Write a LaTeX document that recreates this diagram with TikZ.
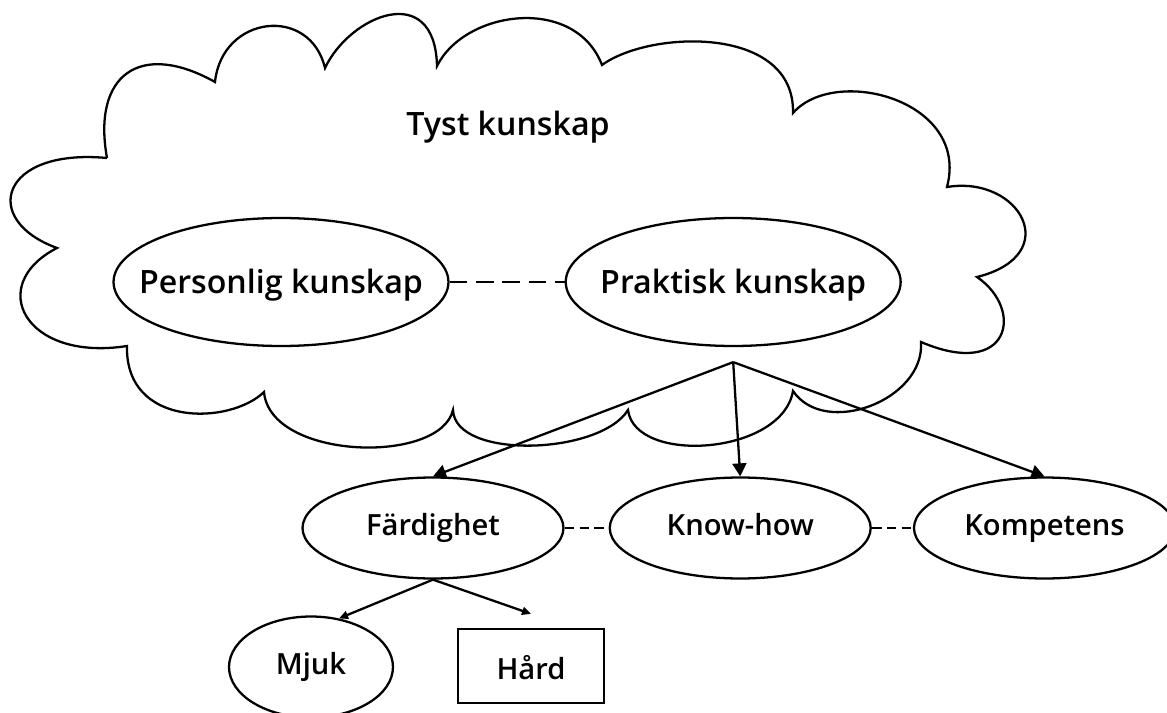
\documentclass[tikz,border=0pt]{standalone}
\usepackage{fontspec}
\IfFontExistsTF{Open Sans SemiBold}
  {\setmainfont{Open Sans SemiBold}}
  {\IfFontExistsTF{Open Sans Semibold}
    {\setmainfont{Open Sans Semibold}}
    {\setmainfont{Open Sans}[UprightFeatures={FakeBold=1.5}]}}
\usetikzlibrary{arrows.meta, positioning, shapes.geometric}

\begin{document}
\begin{tikzpicture}[
  x=0.02cm, y=-0.02cm,                          % one unit = one pixel of the sketch
  line width=1.3pt,
  bigtext/.style={font=\fontsize{18.3}{22}\selectfont},
  smalltext/.style={font=\fontsize{16.6}{20}\selectfont,
                    text height=11.5pt, text depth=3pt},
  bigbubble/.style={ellipse, draw, line width=1.3pt, inner sep=0pt,
                    minimum width=6.7cm, minimum height=2.56cm},
  bubble/.style={ellipse, draw, line width=1.3pt, inner sep=0pt, smalltext,
                 minimum width=5.22cm, minimum height=2.02cm},
  hardbox/.style={rectangle, draw, line width=1.3pt, inner sep=0pt, smalltext,
                  text height=16.5pt, text depth=1.5pt,
                  minimum width=2.92cm, minimum height=1.48cm},
  biglink/.style={line width=1.3pt, dash pattern=on 10pt off 5pt},
  link/.style={line width=1.3pt, dash pattern=on 5.5pt off 3pt},
  branch/.style={-{Triangle[length=2.6mm, width=2.8mm]}, line width=1.3pt},
  twig/.style={-{Triangle[length=1.8mm, width=1.6mm]}, line width=1.3pt}
]
  \useasboundingbox (0,0) rectangle (1167,713);

  % --- cloud of tacit knowledge ---
  \draw[line width=1.3pt]
    (107,158) .. controls (92,75) and (140,40) .. (215,82)
              .. controls (222,15) and (310,5) .. (325,68)
              .. controls (350,15) and (435,-20) .. (437,66)
              .. controls (465,10) and (575,-5) .. (602,65)
              .. controls (650,30) and (795,25) .. (793,113)
              .. controls (835,65) and (970,100) .. (947,187)
              .. controls (1020,175) and (1065,255) .. (977,277)
              .. controls (1025,310) and (1010,380) .. (921,342)
              .. controls (925,400) and (825,438) .. (793,391)
              .. controls (782,455) and (635,465) .. (628,410)
              .. controls (600,455) and (455,460) .. (453,410)
              .. controls (440,465) and (270,460) .. (264,392)
              .. controls (230,425) and (125,428) .. (127,346)
              .. controls (25,362) and (-15,285) .. (57,248)
              .. controls (-20,220) and (0,148) .. (107,158);

  \node[bigtext] (tyst) at (508,127) {Tyst kunskap};

  % --- top pair inside the cloud ---
  \node[bigbubble, label={[bigtext, yshift=-2pt]center:Personlig kunskap}] (pers) at (281,282) {};
  \node[bigbubble, label={[bigtext, yshift=-2pt]center:Praktisk kunskap}, right=2.3cm of pers] (prak) {};
  \coordinate[below=0.3cm of prak] (split);

  % --- middle row ---
  \node[bubble] (fard) at (433,528) {Färdighet};
  \node[bubble, right=0.88cm of fard] (know) {Know-how};
  \node[bubble, right=0.82cm of know] (komp) {Kompetens};

  % --- bottom row ---
  \node[bubble, minimum width=3.28cm] (mjuk) at (311,667) {Mjuk};
  \node[hardbox] (hard) at (531,666) {Hård};

  % --- edges ---
  \draw[biglink] (pers) -- (prak);
  \draw[link] (fard) -- (know);
  \draw[link] (know) -- (komp);
  \draw[branch] (split) -- (fard.north);
  \draw[branch] (split) -- (know.north);
  \draw[branch] (split) -- (komp.north);
  \draw[twig] (fard.south) -- (mjuk.60);
  \draw[twig] (fard.south) -- ([yshift=0.28cm]hard.north);

\end{tikzpicture}
\end{document}
